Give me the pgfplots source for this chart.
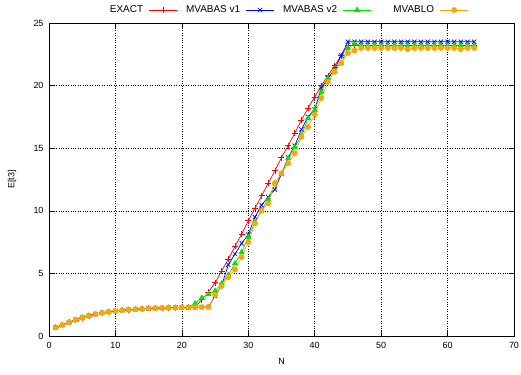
\documentclass[border=0pt]{standalone}
\usepackage{fontspec}
\setmainfont{Liberation Sans}
\usepackage{pgfplots}
\usepackage{pgfplotstable}
\pgfplotsset{compat=1.18}
\definecolor{cred}{RGB}{255,0,0}
\definecolor{cblue}{RGB}{0,0,255}
\definecolor{cgreen}{RGB}{0,230,0}
\definecolor{corange}{RGB}{255,165,0}
\pgfplotstableread{
N exact v1 v2 blo
1 0.68 0.68 0.68 0.68
2 0.88 0.88 0.88 0.88
3 1.08 1.08 1.08 1.08
4 1.29 1.29 1.29 1.29
5 1.47 1.47 1.47 1.47
6 1.62 1.62 1.62 1.62
7 1.75 1.75 1.75 1.75
8 1.85 1.85 1.85 1.85
9 1.93 1.93 1.93 1.93
10 2.00 2.00 2.00 2.00
11 2.06 2.06 2.06 2.06
12 2.10 2.10 2.10 2.10
13 2.14 2.14 2.14 2.14
14 2.17 2.17 2.17 2.17
15 2.20 2.20 2.20 2.20
16 2.22 2.22 2.22 2.22
17 2.24 2.24 2.24 2.24
18 2.26 2.26 2.26 2.26
19 2.27 2.27 2.27 2.27
20 2.28 2.28 2.28 2.28
21 2.29 2.29 2.29 2.29
22 2.30 2.30 2.60 2.30
23 2.90 2.31 3.05 2.31
24 3.50 2.32 3.35 2.32
25 4.25 3.20 3.60 3.27
26 5.20 4.05 4.20 4.00
27 6.15 5.70 4.85 4.70
28 7.15 6.55 5.80 5.30
29 8.15 7.40 6.70 6.30
30 9.20 8.10 7.90 7.50
31 10.20 9.50 9.10 9.00
32 11.20 10.45 10.05 10.00
33 12.20 11.10 10.90 10.60
34 13.20 11.70 12.20 12.20
35 14.25 12.95 12.95 13.00
36 15.20 14.25 14.20 13.80
37 16.20 15.20 15.10 14.60
38 17.25 16.50 16.00 15.90
39 18.20 17.50 17.40 16.70
40 19.10 18.10 18.05 17.70
41 20.00 19.80 19.50 19.00
42 20.80 20.60 20.60 20.30
43 21.60 21.30 21.20 21.10
44 22.40 22.40 21.80 21.80
45 23.20 23.50 23.00 22.60
46 23.20 23.50 23.35 22.80
47 23.20 23.50 23.20 23.00
48 23.20 23.50 23.20 23.00
49 23.20 23.50 23.20 23.00
50 23.20 23.50 23.20 23.00
51 23.20 23.50 23.20 23.00
52 23.20 23.50 23.20 23.00
53 23.20 23.50 23.20 23.00
54 23.20 23.50 23.20 22.90
55 23.20 23.50 23.20 23.00
56 23.20 23.50 23.20 23.00
57 23.20 23.50 23.20 23.00
58 23.20 23.50 23.20 23.00
59 23.20 23.50 23.20 23.00
60 23.20 23.50 23.20 23.00
61 23.20 23.50 23.20 23.00
62 23.20 23.50 23.20 22.90
63 23.20 23.50 23.20 23.00
64 23.20 23.50 23.20 23.00
}\datatable
\begin{document}
\begin{tikzpicture}
\useasboundingbox (-49bp,-39bp) rectangle (472bp,336bp);
\begin{axis}[
  anchor=south west, at={(0,0)},
  scale only axis, width=465bp, height=313bp,
  xmin=0, xmax=70, ymin=0, ymax=25,
  xtick={0,10,...,70}, ytick={0,5,...,25},
  tick align=inside, major tick length=5bp,
  axis line style={black, line width=0.8pt},
  tick style={black, line width=0.6pt},
  grid=major,
  grid style={black, line width=0.5pt, dash pattern=on 0.8bp off 1.6bp},
  /pgf/number format/assume math mode=true,
  tick label style={font=\fontsize{9}{10}\selectfont},
  xticklabel style={yshift=-3bp},
  yticklabel style={xshift=-2bp},
  xlabel={N}, ylabel={E[t3]},
  label style={font=\fontsize{9}{10}\selectfont},
  xlabel style={at={(axis description cs:0.5,-0.08)}, anchor=center},
  ylabel style={at={(axis description cs:-0.0796,0.5)}, anchor=center},
  legend columns=4,
  legend plot pos=right,
  legend style={at={(rel axis cs:0.495,1.0415)}, anchor=center, draw=none, fill=none,
    inner sep=0pt, column sep=0pt, font=\fontsize{10}{12}\selectfont,
    nodes={inner sep=0pt}},
  legend image code/.code={\path[draw=none, fill=none] (0bp,-3bp) rectangle (39bp,3bp);
    \draw[#1] (6bp,0bp) -- (34bp,0bp);
    \draw[#1, only marks] plot coordinates {(20bp,0bp)};},
]
\addplot[cred, line width=0.7pt, mark=+, mark size=3bp, mark options={line width=0.7pt}] table[x=N,y=exact] {\datatable};
\addlegendentry{\makebox[58bp][r]{EXACT}}
\addplot[cblue, line width=0.7pt, mark=x, mark size=3bp, mark options={line width=0.7pt}] table[x=N,y=v1] {\datatable};
\addlegendentry{\makebox[58bp][r]{MVABAS v1}}
\addplot[cgreen, line width=0.7pt, mark=triangle*, mark size=2.8bp, mark options={fill=cgreen}] table[x=N,y=v2] {\datatable};
\addlegendentry{\makebox[58bp][r]{MVABAS v2}}
\addplot[corange, line width=0.7pt, mark=*, mark size=2.5bp, mark options={fill=corange}] table[x=N,y=blo] {\datatable};
\addlegendentry{\makebox[58bp][r]{MVABLO}}
\end{axis}
\end{tikzpicture}
\end{document}
